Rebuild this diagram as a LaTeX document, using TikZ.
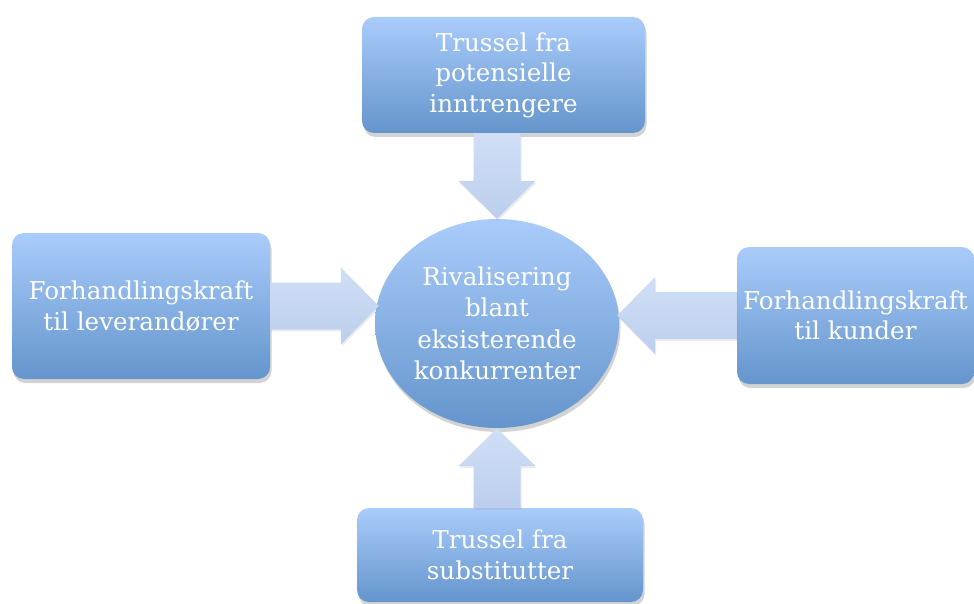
\documentclass[tikz,border=0pt]{standalone}
\usepackage{fontspec}
\setmainfont{DejaVu Serif}
\usetikzlibrary{shadows,calc,shapes.geometric}
\definecolor{boxtop}{RGB}{170,204,251}
\definecolor{boxbot}{RGB}{100,149,204}
\definecolor{arrtop}{RGB}{208,223,246}
\definecolor{arrbot}{RGB}{188,206,237}
\tikzset{
  force/.style={rounded corners=12pt, top color=boxtop, bottom color=boxbot,
    text=white, align=center, font=\fontsize{24.6}{30.5}\selectfont, inner sep=0pt,
    drop shadow={opacity=0.35, shadow xshift=1.5pt, shadow yshift=-4pt}},
  core/.style={ellipse, top color=boxtop, bottom color=boxbot,
    text=white, align=center, font=\fontsize{24.6}{31.5}\selectfont, inner sep=0pt,
    drop shadow={opacity=0.35, shadow xshift=1.5pt, shadow yshift=-4pt}},
  arrowfill/.style={top color=arrtop, bottom color=arrbot,
    drop shadow={opacity=0.15, shadow xshift=1pt, shadow yshift=-2pt}}
}
\newcommand\blockarrow[2]{%
  \path (#1) coordinate (ba-s) (#2) coordinate (ba-e);
  \path ($(ba-e)!38pt!(ba-s)$) coordinate (ba-h);
  \path[arrowfill] ($(ba-s)!23.5pt!90:(ba-e)$) -- ($(ba-h)!23.5pt!90:(ba-e)$)
    -- ($(ba-h)!38.5pt!90:(ba-e)$) -- (ba-e) -- ($(ba-h)!38.5pt!-90:(ba-e)$)
    -- ($(ba-h)!23.5pt!-90:(ba-e)$) -- ($(ba-s)!23.5pt!-90:(ba-e)$) -- cycle;
}
\begin{document}
\begin{tikzpicture}[x=1pt,y=-1pt]
\useasboundingbox (0,0) rectangle (974,604);
\node[force, minimum width=283pt, minimum height=116pt] (top) at (503.5,75)
  {Trussel fra\\potensielle\\inntrengere};
\node[force, minimum width=258pt, minimum height=146pt] (left) at (141,306)
  {Forhandlingskraft\\til leverandører};
\node[force, minimum width=237pt, minimum height=137pt] (right) at (855.5,315.5)
  {Forhandlingskraft\\til kunder};
\node[force, minimum width=286pt, minimum height=94pt] (bot) at (500,555)
  {Trussel fra\\substitutter};
\node[core, minimum width=244pt, minimum height=209pt] (ell) at (497,323.5)
  {Rivalisering\\blant\\eksisterende\\konkurrenter};
\blockarrow{top.south -| ell.center}{ell.north}
\blockarrow{left.east}{$(ell.west |- left.east)+(4,0)$}
\blockarrow{right.west}{$(ell.east |- right.west)+(-2,0)$}
\blockarrow{bot.north -| ell.center}{ell.south}
\end{tikzpicture}
\end{document}
